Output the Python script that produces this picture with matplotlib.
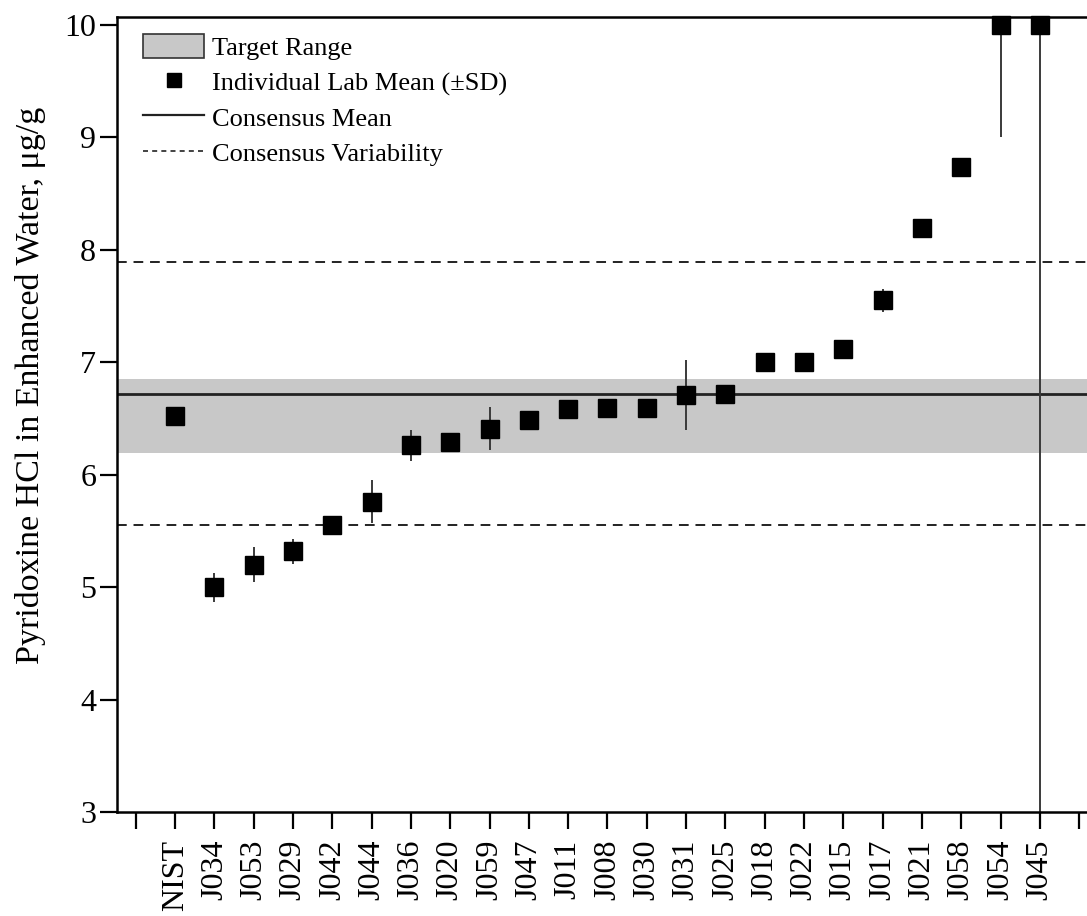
import numpy as np
import matplotlib.pyplot as plt
from matplotlib.patches import Patch
from matplotlib.lines import Line2D

plt.rcParams['font.family'] = ['Liberation Serif', 'DejaVu Serif']

# lab codes, ordered by mean
labs = ['NIST', 'J034', 'J053', 'J029', 'J042', 'J044', 'J036', 'J020', 'J059',
        'J047', 'J011', 'J008', 'J030', 'J031', 'J025', 'J018', 'J022', 'J015',
        'J017', 'J021', 'J058', 'J054', 'J045']
means = [6.52, 5.00, 5.20, 5.32, 5.55, 5.76, 6.26, 6.29, 6.41,
         6.49, 6.58, 6.59, 6.59, 6.71, 6.72, 7.00, 7.00, 7.12,
         7.55, 8.19, 8.74, 10.0, 10.0]
sds = [0.0, 0.13, 0.155, 0.11, 0.03, 0.19, 0.14, 0.03, 0.19,
       0.03, 0.03, 0.03, 0.03, 0.31, 0.03, 0.03, 0.03, 0.03,
       0.10, 0.03, 0.03, 1.0, 8.0]

cons_mean = 6.72
target_lo, target_hi = 6.19, 6.85
var_lo, var_hi = 5.55, 7.89

x = np.arange(1, len(labs) + 1)

fig = plt.figure(figsize=(10.87, 9.16), dpi=100)
ax = fig.add_axes([0.1076, 0.1135, 0.8924, 0.8679])

band_col = '#c8c8c8'
ax.axhspan(target_lo, target_hi, color=band_col, lw=0, zorder=0)
ax.axhline(cons_mean, color='#222222', lw=2.0, zorder=1)
ax.axhline(var_lo, color='#222222', lw=1.4, ls=(0, (5, 3.5)), zorder=1)
ax.axhline(var_hi, color='#222222', lw=1.4, ls=(0, (5, 3.5)), zorder=1)

ax.errorbar(x, means, yerr=sds, fmt='none', ecolor='#3a3a3a', elinewidth=1.4,
            capsize=0, zorder=2)
ax.plot(x, means, 's', color='black', ms=12.5, zorder=3, clip_on=False)

ax.set_xlim(-0.48, 24.2)
ax.set_ylim(3, 10.07)
ax.set_xticks(np.arange(0, len(labs) + 2))
ax.set_xticklabels([''] + labs + [''], rotation=90, fontsize=23)
ax.set_yticks(np.arange(3, 11))
ax.tick_params(axis='y', labelsize=23, length=12, width=1.6, pad=3)
ax.tick_params(axis='x', length=12, width=1.6, pad=8)

ax.spines['right'].set_visible(False)
for s in ['left', 'bottom', 'top']:
    ax.spines[s].set_linewidth(1.8)

ax.set_ylabel('Pyridoxine HCl in Enhanced Water, μg/g', fontsize=24.5)
ax.yaxis.set_label_coords(-0.073, 0.537)

handles = [Patch(facecolor=band_col, edgecolor='#333333', lw=1.2),
           Line2D([], [], marker='s', color='black', ls='none', ms=10),
           Line2D([], [], color='#222222', lw=1.6),
           Line2D([], [], color='#222222', lw=1.2, ls=(0, (3, 2.5)))]
names = ['Target Range', 'Individual Lab Mean (±SD)', 'Consensus Mean',
         'Consensus Variability']
ax.legend(handles, names, loc='upper left', bbox_to_anchor=(0.0, 1.012),
          frameon=False, fontsize=19, handlelength=2.3, handleheight=1.0,
          handletextpad=0.3, labelspacing=0.36, borderpad=0.5)

fig.savefig('out.png', dpi=100)
